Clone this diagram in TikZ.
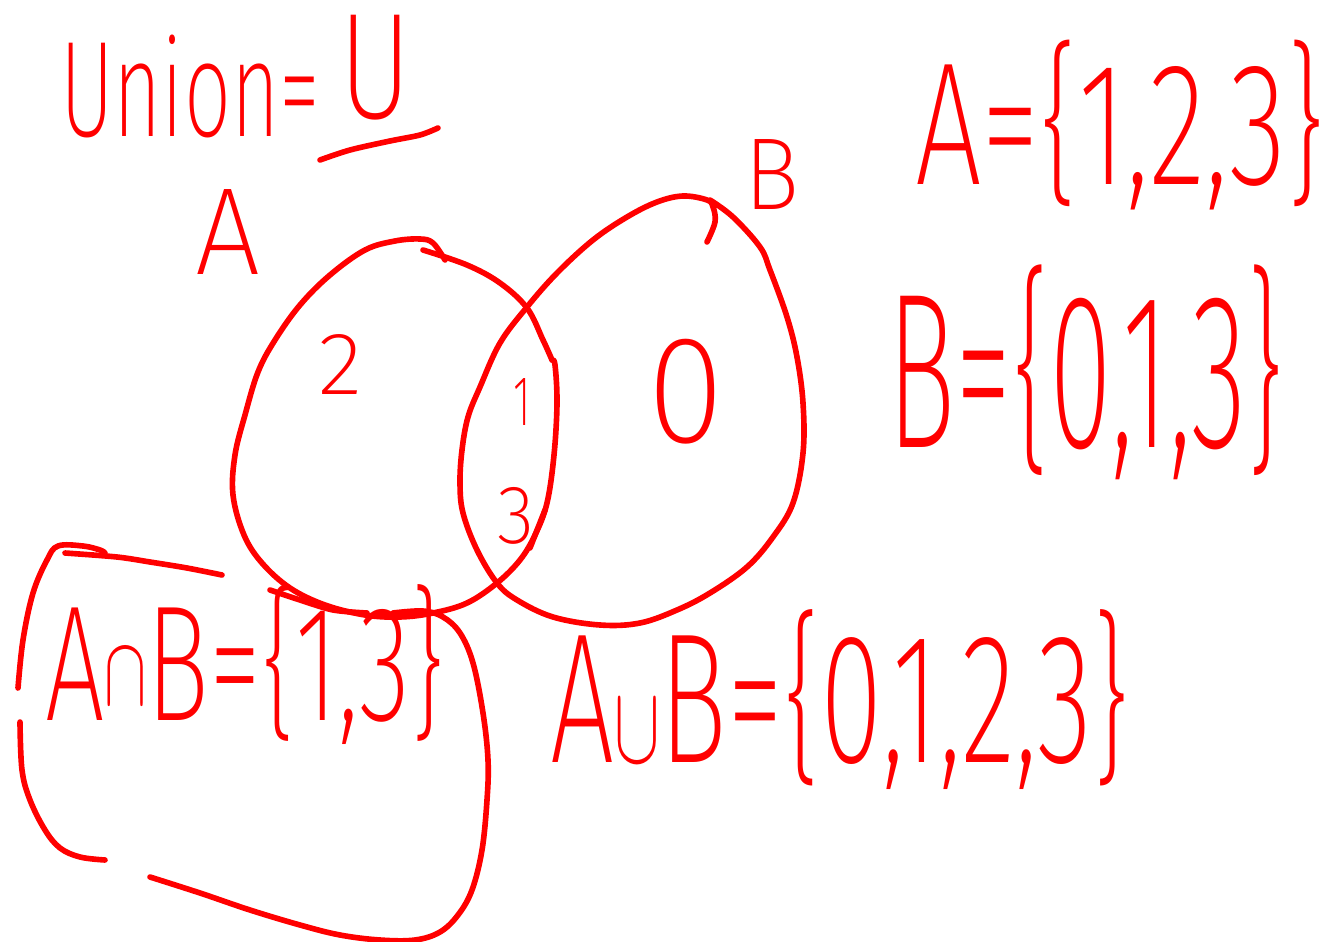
\documentclass[tikz,border=0pt]{standalone}
\usepackage{fontspec}
\usepackage{graphicx}
\newfontfamily\hand{Fira Sans ExtraLight}
\newcommand\hw[3]{\resizebox*{#1}{#2}{\hand #3}}
\newcommand\smallop[2]{\raisebox{#2}{\scalebox{0.6}{$#1$}}}
\begin{document}
\begin{tikzpicture}[x=0.02cm,y=-0.02cm,
  ink/.style={draw=red,line width=3.2pt,line cap=round,line join=round},
  txt/.style={text=red,inner sep=0pt}]
\useasboundingbox (0,0) rectangle (1331,942);
% texts
\node[txt] (union) at (190,86) {\hw{5.2cm}{2.06cm}{Union=}};
\node[txt] (bigU) at (376,68) {\hw{1.44cm}{2.1cm}{U}};
\node[txt] (labA) at (228,232) {\hw{1.3cm}{1.7cm}{A}};
\node[txt] (labB) at (772,175) {\hw{1.1cm}{1.4cm}{B}};
\node[txt] (two) at (340,365) {\hw{0.88cm}{1.2cm}{2}};
\node[txt] (one) at (522,402) {\hw{0.35cm}{0.94cm}{1}};
\node[txt] (three) at (516,516) {\hw{0.74cm}{1.14cm}{3}};
\node[txt] (zero) at (686,392) {\hw{1.54cm}{2.1cm}{0}};
\node[txt] (setA) at (1120,125) {\hw{8.2cm}{3.4cm}{A=\{1,2,3\}}};
\node[txt] (setB) at (1086,372) {\hw{7.94cm}{4.3cm}{B=\{0,1,3\}}};
\node[txt] (inter) at (245,665) {\hw{8cm}{3.2cm}{A\smallop{\cap}{0.1em}B=\{1,3\}}};
\node[txt] (uni) at (840,700) {\hw{11.6cm}{3.6cm}{A\smallop{\cup}{0em}B=\{0,1,2,3\}}};
% underline
\draw[ink] plot[smooth] coordinates {(320,160) (350,150) (390,141) (420,135) (438,128)};
% circle A
\draw[ink] plot[smooth,tension=0.6] coordinates {(445,260) (433,243) (420,239) (395,241) (365,250) (330,275) (300,305) (275,340) (258,372) (245,415) (235,455) (233,495) (244,535) (262,563) (290,588) (325,605) (365,615) (400,617) (433,613) (467,603) (497,583) (520,560) (535,535) (547,503) (554,455) (557,403) (555,365) (552,360)};
\draw[ink] plot[smooth,tension=0.6] coordinates {(552,360) (543,340) (527,308) (500,283) (467,265) (423,250)};
% circle B
\draw[ink] plot[smooth,tension=0.6] coordinates {(707,242) (715,222) (713,207) (707,200) (683,196) (657,202) (627,217) (593,240) (557,273) (527,307) (500,343) (480,387) (468,417) (462,450) (460,483) (463,513) (477,550) (497,583) (517,600) (553,617) (600,625) (640,623) (677,610) (710,593) (747,567) (773,537) (793,503) (803,453) (803,403) (797,357) (787,317) (770,270) (760,247) (733,217) (710,200)};
% small stroke near 3
\draw[ink] (545,510) -- (530,548);
% box around intersection
\draw[ink] plot[smooth,tension=0.6] coordinates {(18,688) (23,640) (33,593) (47,560) (58,546) (83,546) (100,550) (105,553)};
\draw[ink] plot[smooth] coordinates {(65,553) (117,557) (150,562) (187,568) (222,575)};
\draw[ink] plot[smooth] coordinates {(270,590) (300,600) (333,610) (367,613)};
\draw[ink] plot[smooth,tension=0.6] coordinates {(393,613) (423,611) (443,617) (460,633) (473,663) (483,713) (488,760) (487,800) (482,850) (472,890) (458,915) (440,932) (415,940) (380,940) (340,935) (300,925) (250,910) (200,893) (150,877)};
\draw[ink] plot[smooth,tension=0.6] coordinates {(20,722) (22,770) (30,800) (45,830) (60,848) (80,857) (105,860)};
\end{tikzpicture}
\end{document}
